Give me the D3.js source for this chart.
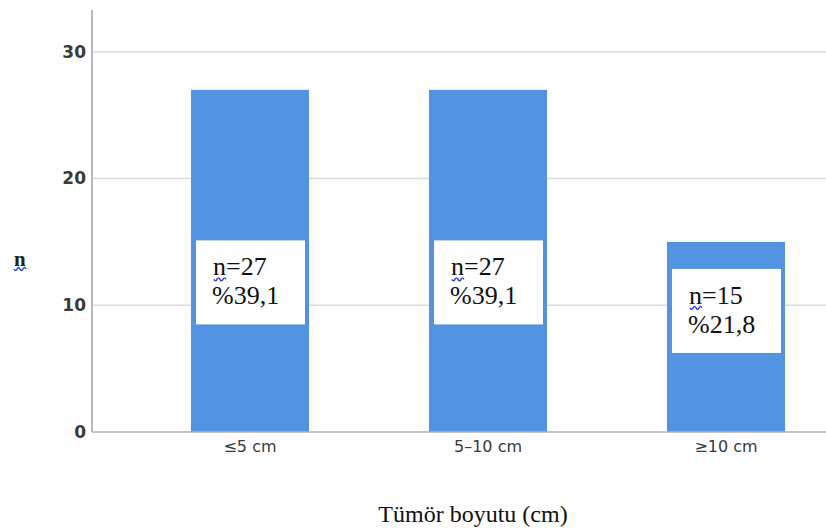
<!DOCTYPE html>
<html>
<head>
<meta charset="utf-8">
<script src="https://cdn.jsdelivr.net/npm/d3@7"></script>
<style>
  html, body { margin: 0; padding: 0; background: #fff; }
  svg { display: block; }
</style>
</head>
<body>
<svg id="chart" width="826" height="532"></svg>
<script>
// Tumour size groups and patient counts
const categories = ["≤5 cm", "5–10 cm", "≥10 cm"];
const counts = [27, 27, 15];
const percents = ["39,1", "39,1", "21,8"];
const yTicks = [0, 10, 20, 30];

const svg = d3.select("#chart");
const W = 826, H = 532;
const m = { left: 92, top: 10 };
const plotBottom = 432;

const y = d3.scaleLinear().domain([0, 33.3]).range([plotBottom, m.top]);
const x = d3.scaleBand().domain(categories).range([71, 905]).paddingInner(0.504).paddingOuter(0.504);

// gridlines
svg.append("g").selectAll("line").data(yTicks.filter(d => d > 0)).join("line")
  .attr("x1", m.left).attr("x2", W)
  .attr("y1", d => y(d)).attr("y2", d => y(d))
  .attr("stroke", "#dcdcdc").attr("stroke-width", 1.5);

// bars
svg.append("g").selectAll("rect").data(counts).join("rect")
  .attr("x", (d, i) => x(categories[i]))
  .attr("width", x.bandwidth())
  .attr("y", d => y(d))
  .attr("height", d => plotBottom - y(d))
  .attr("fill", "#5394e2");

// y axis
const yAxis = d3.axisLeft(y).tickValues(yTicks).tickSize(0).tickPadding(6);
const gy = svg.append("g").attr("transform", `translate(${m.left},0)`).call(yAxis);
gy.select(".domain").remove();
gy.selectAll("text").attr("font-family", "DejaVu Sans, sans-serif").attr("font-size", 17)
  .attr("font-weight", "bold").attr("fill", "#3a3a3a");
svg.append("line").attr("x1", m.left).attr("x2", m.left).attr("y1", m.top).attr("y2", plotBottom)
  .attr("stroke", "#b8b8b8").attr("stroke-width", 2);

// x axis
const xAxis = d3.axisBottom(x).tickSize(0).tickPadding(9);
const gx = svg.append("g").attr("transform", `translate(0,${plotBottom})`).call(xAxis);
gx.select(".domain").remove();
gx.selectAll("text").attr("font-family", "DejaVu Sans, sans-serif")
  .attr("font-size", 16).attr("fill", "#3a3a3a");
svg.append("line").attr("x1", m.left).attr("x2", W).attr("y1", plotBottom).attr("y2", plotBottom)
  .attr("stroke", "#b0b0b0").attr("stroke-width", 1.5);

// squiggly underline under a word
function squiggle(g, x0, x1, yy) {
  const p = d3.path();
  p.moveTo(x0, yy);
  const step = 3;
  let up = true;
  for (let xx = x0; xx < x1; xx += step) {
    p.quadraticCurveTo(xx + step / 2, yy + (up ? 3 : -3), xx + step, yy);
    up = !up;
  }
  g.append("path").attr("d", p.toString()).attr("fill", "none")
    .attr("stroke", "#2f3cf0").attr("stroke-width", 1.4);
}

// value boxes inside the bars
const boxes = svg.append("g");
counts.forEach((d, i) => {
  const cx = x(categories[i]) + x.bandwidth() / 2;
  // box sits mid-bar for the tall bars, just below the top for the short one
  const boxTop = d >= 20 ? y(d * 0.56) : y(d) + 27;
  const bx = cx - 54;
  const g = boxes.append("g");
  g.append("rect").attr("x", bx).attr("y", boxTop).attr("width", 109).attr("height", 84)
    .attr("fill", "#fff");
  g.append("text").attr("x", bx + 17).attr("y", boxTop + 35)
    .attr("font-family", "Liberation Serif, Times New Roman, serif").attr("font-size", 26)
    .attr("fill", "#111").text(`n=${d}`);
  squiggle(g, bx + 18, bx + 30, boxTop + 39);
  g.append("text").attr("x", bx + 16).attr("y", boxTop + 64)
    .attr("font-family", "Liberation Serif, Times New Roman, serif").attr("font-size", 26)
    .attr("fill", "#111").text(`%${percents[i]}`);
});

// axis titles
svg.append("text").attr("x", 14).attr("y", 266)
  .attr("font-family", "Liberation Serif, Times New Roman, serif").attr("font-size", 21)
  .attr("font-weight", "bold").attr("fill", "#222").text("n");
squiggle(svg, 14, 26, 269);

svg.append("text").attr("x", 473).attr("y", 522).attr("text-anchor", "middle")
  .attr("font-family", "Liberation Serif, Times New Roman, serif").attr("font-size", 24)
  .attr("fill", "#111").text("Tümör boyutu (cm)");
</script>
</body>
</html>
